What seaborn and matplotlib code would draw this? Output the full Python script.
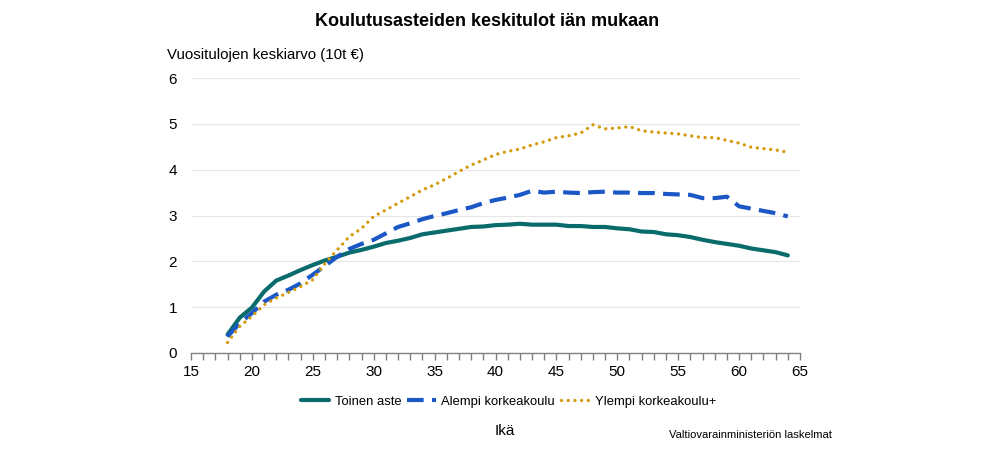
import matplotlib
matplotlib.use("Agg")
import matplotlib.pyplot as plt
import seaborn as sns
from matplotlib.ticker import MultipleLocator

ages = list(range(18, 65))

toinen_aste = [0.40, 0.77, 0.99, 1.34, 1.58, 1.69, 1.81, 1.92, 2.02, 2.10,
               2.19, 2.25, 2.32, 2.40, 2.45, 2.51, 2.59, 2.63, 2.67, 2.71,
               2.75, 2.76, 2.79, 2.80, 2.82, 2.80, 2.80, 2.80, 2.77, 2.77,
               2.75, 2.75, 2.72, 2.70, 2.65, 2.64, 2.59, 2.57, 2.53, 2.47,
               2.42, 2.38, 2.34, 2.28, 2.24, 2.20, 2.13]

alempi_kk = [0.36, 0.65, 0.87, 1.12, 1.27, 1.38, 1.52, 1.71, 1.90, 2.10,
             2.27, 2.38, 2.47, 2.61, 2.75, 2.83, 2.92, 2.99, 3.05, 3.12,
             3.18, 3.27, 3.34, 3.39, 3.45, 3.54, 3.50, 3.52, 3.50, 3.49,
             3.51, 3.52, 3.50, 3.50, 3.49, 3.49, 3.47, 3.46, 3.45, 3.38,
             3.38, 3.41, 3.20, 3.15, 3.10, 3.05, 2.98]

ylempi_kk = [0.23, 0.58, 0.80, 1.05, 1.20, 1.32, 1.45, 1.60, 1.95, 2.25,
             2.54, 2.72, 2.98, 3.12, 3.27, 3.41, 3.56, 3.67, 3.81, 3.96,
             4.10, 4.21, 4.33, 4.40, 4.45, 4.54, 4.61, 4.70, 4.74, 4.80,
             4.98, 4.89, 4.91, 4.94, 4.85, 4.82, 4.80, 4.78, 4.74, 4.70,
             4.70, 4.64, 4.58, 4.49, 4.46, 4.43, 4.38]

labels = ["Toinen aste", "Alempi korkeakoulu", "Ylempi korkeakoulu+"]
colors = ["#0a6b6c", "#1b58c6", "#d39a0c"]

sns.set_theme(style="white")
plt.rcParams["font.family"] = ["Liberation Sans", "DejaVu Sans"]
plt.rcParams["text.color"] = "black"
plt.rcParams["xtick.color"] = "#808080"
plt.rcParams["xtick.labelcolor"] = "black"
plt.rcParams["ytick.labelcolor"] = "black"

fig = plt.figure(figsize=(10, 4.5), dpi=100)
ax = fig.add_axes([0.191, 0.2156, 0.609, 0.611])

sns.lineplot(x=ages, y=toinen_aste, color=colors[0], lw=3.0,
             label=labels[0], ax=ax)
sns.lineplot(x=ages, y=alempi_kk, color=colors[1], lw=3.0,
             label=labels[1], ax=ax)
ax.lines[-1].set_linestyle((0, (4, 2)))
sns.lineplot(x=ages, y=ylempi_kk, color=colors[2], lw=2.4,
             label=labels[2], ax=ax)
ax.lines[-1].set_linestyle((0, (0.01, 2.0)))
ax.lines[-1].set_dash_capstyle("round")

ax.set_xlim(15, 65)
ax.set_ylim(0, 6)
ax.xaxis.set_major_locator(MultipleLocator(5))
ax.xaxis.set_minor_locator(MultipleLocator(1))
ax.yaxis.set_major_locator(MultipleLocator(1))
ax.grid(axis="y", color="#e6e6e6", lw=0.8)
ax.set_axisbelow(True)

for side in ["top", "right", "left"]:
    ax.spines[side].set_visible(False)
ax.spines["bottom"].set_color("#808080")
ax.spines["bottom"].set_linewidth(1.0)

ax.tick_params(axis="x", which="both", direction="out", bottom=True)
ax.tick_params(axis="x", which="major", length=5, width=1, labelsize=11,
               pad=4)
ax.tick_params(axis="x", which="minor", length=5, width=1)
ax.tick_params(axis="y", length=0, labelsize=11, pad=10)

ax.set_xlabel("")
ax.set_ylabel("")

fig.text(0.487, 0.953, "Koulutusasteiden keskitulot iän mukaan",
         ha="center", va="center", fontsize=13, fontweight="bold")
fig.text(0.167, 0.877, "Vuositulojen keskiarvo (10t €)",
         ha="left", va="center", fontsize=10.8)
fig.text(0.505, 0.042, "Ikä", ha="center", va="center", fontsize=11)
fig.text(0.832, 0.034, "Valtiovarainministeriön laskelmat",
         ha="right", va="center", fontsize=8.1)

ax.legend(loc="center", bbox_to_anchor=(0.521, -0.178), ncol=3,
          frameon=False, fontsize=9.4, handlelength=2.2,
          columnspacing=0.45, handletextpad=0.4)

fig.savefig("out.png", dpi=100)
